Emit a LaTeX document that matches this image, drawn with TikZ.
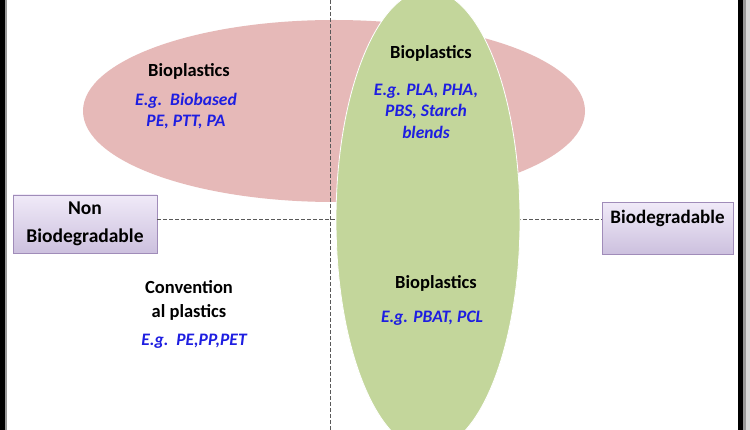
\documentclass[tikz,border=0pt]{standalone}
\usepackage{fontspec}
\setmainfont{Carlito}
\usetikzlibrary{shapes.geometric}
\definecolor{pinkfill}{RGB}{230,185,184}
\definecolor{greenfill}{RGB}{195,214,155}
\definecolor{boxtop}{RGB}{240,234,248}
\definecolor{boxbot}{RGB}{204,192,222}
\definecolor{boxline}{RGB}{160,140,185}
\definecolor{exblue}{RGB}{30,30,225}
\tikzset{
  lbl/.style={font=\fontsize{18.5}{24}\selectfont\bfseries, text=black, align=center, inner sep=0pt},
  ex/.style={font=\fontsize{17.5}{21.5}\selectfont\bfseries\itshape, text=exblue, align=center, inner sep=0pt},
  axisbox/.style={draw=boxline, line width=0.8pt, top color=boxtop, bottom color=boxbot, font=\fontsize{19.5}{28}\selectfont\bfseries, align=center, inner sep=0pt},
  axisline/.style={dashed, dash pattern=on 4pt off 2pt, line width=0.9pt, draw=black!65},
}
\begin{document}
\begin{tikzpicture}[x=1pt,y=-1pt]
\useasboundingbox (0,0) rectangle (750,430);
\fill[white] (0,0) rectangle (750,430);
% frame
\fill[black] (0,0) rectangle (5,430);
\fill[black!40] (5,0) rectangle (7,430);
\fill[black] (738,0) rectangle (743,430);
\fill[black!40] (743,0) rectangle (746,430);
\fill[black!15] (746,0) rectangle (750,430);
% pink ellipse
\node[ellipse, fill=pinkfill, minimum width=502, minimum height=182, inner sep=0pt] (pink) at (334,111) {};
% boxes
\node[axisbox, minimum width=144, minimum height=58] (nonbio) at (85,224) {Non\\Biodegradable};
\node[axisbox, minimum width=131, minimum height=52, anchor=north west] (bio) at (602,202) {};
\node[font=\fontsize{19}{22}\selectfont\bfseries, inner sep=0pt] (biotxt) at (667.5,218) {Biodegradable};
% axes
\coordinate (vtop) at (330,0);
\coordinate (vbot) at (330,430);
\draw[axisline] (vtop) -- (vbot);
\draw[axisline] (nonbio.east |- 0,219) -- (bio.west |- 0,219);
% green ellipse
\node[ellipse, fill=greenfill, draw=white, line width=0.8pt, minimum width=184, minimum height=460, inner sep=0pt] (green) at (428,220) {};
% texts
\node[lbl] (p1) at (189,71) {Bioplastics};
\node[ex] (p2) at (186,111) {E.g.\ \ Biobased\\PE, PTT, PA};
\node[lbl] (g1) at (431,53) {Bioplastics};
\node[ex] (g2) at (426,111) {E.g. PLA, PHA,\\PBS, Starch\\blends};
\node[lbl] (g3) at (436,283) {Bioplastics};
\node[ex] (g4) at (432,318) {E.g. PBAT, PCL};
\node[lbl] (c1) at (189,300) {Convention\\al plastics};
\node[ex] (c2) at (194,341) {E.g.\ \ PE,PP,PET};
\end{tikzpicture}
\end{document}
